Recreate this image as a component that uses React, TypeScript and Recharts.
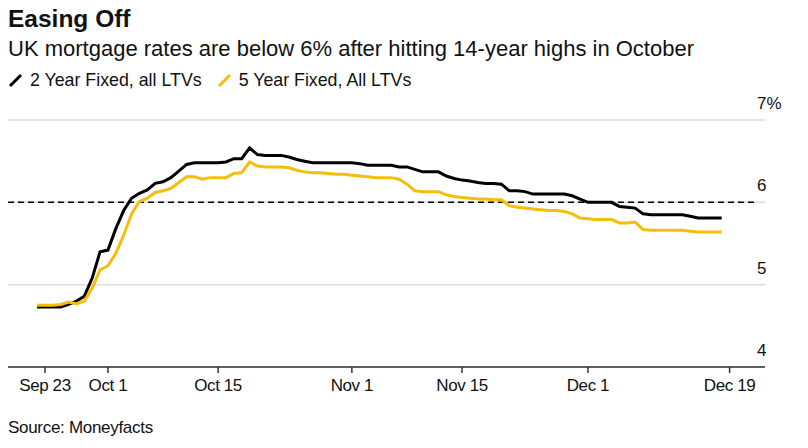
import { LineChart, Line, XAxis, YAxis, CartesianGrid, ReferenceLine } from "recharts"

// daily readings, first point is Sep 22 2022 (day -1 relative to Sep 23)
const startDay = -1

const twoYearFixed = [
  4.73, 4.73, 4.73, 4.73, 4.76, 4.8, 4.86, 5.08, 5.4, 5.42,
  5.68, 5.9, 6.05, 6.11, 6.15, 6.23, 6.25, 6.3, 6.38, 6.46,
  6.48, 6.48, 6.48, 6.48, 6.49, 6.53, 6.53, 6.66, 6.58, 6.57,
  6.57, 6.57, 6.55, 6.52, 6.5, 6.48, 6.48, 6.48, 6.48, 6.48,
  6.48, 6.47, 6.45, 6.45, 6.45, 6.45, 6.43, 6.43, 6.4, 6.37,
  6.37, 6.37, 6.32, 6.29, 6.27, 6.26, 6.24, 6.23, 6.23, 6.22,
  6.14, 6.14, 6.13, 6.1, 6.1, 6.1, 6.1, 6.1, 6.08, 6.04,
  6.0, 6.0, 6.0, 6.0, 5.95, 5.94, 5.93, 5.86, 5.85, 5.85,
  5.85, 5.85, 5.85, 5.83, 5.81, 5.81, 5.81, 5.81,
]

const fiveYearFixed = [
  4.75, 4.75, 4.75, 4.76, 4.79, 4.77, 4.8, 4.96, 5.18, 5.23,
  5.38, 5.6, 5.86, 6.01, 6.05, 6.12, 6.14, 6.17, 6.24, 6.31,
  6.31, 6.28, 6.3, 6.3, 6.3, 6.35, 6.36, 6.49, 6.44, 6.43,
  6.43, 6.43, 6.42, 6.39, 6.37, 6.36, 6.36, 6.35, 6.34, 6.34,
  6.33, 6.32, 6.31, 6.3, 6.3, 6.3, 6.28, 6.22, 6.14, 6.13,
  6.13, 6.13, 6.09, 6.07, 6.06, 6.05, 6.04, 6.04, 6.03, 6.03,
  5.96, 5.94, 5.93, 5.92, 5.91, 5.9, 5.9, 5.89, 5.86, 5.81,
  5.8, 5.79, 5.79, 5.79, 5.75, 5.75, 5.76, 5.67, 5.66, 5.66,
  5.66, 5.66, 5.66, 5.65, 5.64, 5.64, 5.64, 5.64,
]

// tick positions in days from Sep 23
const xTicks = [0, 8, 22, 39, 53, 69, 87]
const xTickLabels = ["Sep 23", "Oct 1", "Oct 15", "Nov 1", "Nov 15", "Dec 1", "Dec 19"]
const yTicks = [4, 5, 6, 7]

const YELLOW = "#f5bd0c"
const FONT = "'Liberation Sans', Arial, Helvetica, sans-serif"

const data = twoYearFixed.map((v, i) => ({
  day: startDay + i,
  two: v,
  five: fiveYearFixed[i],
}))

const YTick = (props: any) => {
  const { x, y, payload } = props
  return (
    <text x={x - 8} y={y - 11} fontSize={17} fill="#111" fontFamily={FONT} textAnchor="start">
      {payload.value === 7 ? "7%" : payload.value}
    </text>
  )
}

const Slash = ({ color }: { color: string }) => (
  <svg width="15" height="15" style={{ marginRight: 7, verticalAlign: "-1px" }}>
    <line x1="2" y1="13" x2="13" y2="2" stroke={color} strokeWidth="3" />
  </svg>
)

export default function App() {
  return (
    <div style={{ position: "relative", width: 792, height: 432, fontFamily: FONT, color: "#111" }}>
      <div style={{ position: "absolute", left: 0, top: -3, fontSize: 24.5, fontWeight: 700 }}>
        Easing Off
      </div>
      <div style={{ position: "absolute", left: 0, top: 28, fontSize: 22 }}>
        UK mortgage rates are below 6% after hitting 14-year highs in October
      </div>
      <div style={{ position: "absolute", left: 0, top: 62, fontSize: 17.8, display: "flex", alignItems: "center" }}>
        <Slash color="#000" />
        <span style={{ marginRight: 15 }}>2 Year Fixed, all LTVs</span>
        <Slash color={YELLOW} />
        <span>5 Year Fixed, All LTVs</span>
      </div>

      <div style={{ position: "absolute", left: 0, top: 0 }}>
        <LineChart width={792} height={390} data={data} margin={{ top: 112, right: 0, bottom: 0, left: 0 }}>
          <CartesianGrid vertical={false} stroke="#dcdcdc" strokeWidth={1.5} />
          <XAxis
            dataKey="day"
            type="number"
            domain={[-4.7, 91.5]}
            ticks={xTicks}
            tickFormatter={(v) => xTickLabels[xTicks.indexOf(v)]}
            height={31}
            axisLine={{ stroke: "#333", strokeWidth: 1.5 }}
            tickLine={{ stroke: "#333", strokeWidth: 1.5 }}
            tickSize={6}
            tickMargin={6}
            tick={{ fontSize: 17, fill: "#111", fontFamily: FONT, letterSpacing: -0.4 }}
            allowDataOverflow
          />
          <YAxis
            orientation="right"
            domain={[4, 7]}
            ticks={yTicks}
            width={35}
            axisLine={false}
            tickLine={false}
            tickSize={0}
            tickMargin={0}
            tick={<YTick />}
          />
          <ReferenceLine
            segment={[{ x: -4.7, y: 6 }, { x: 90.2, y: 6 }]}
            stroke="#000"
            strokeWidth={1.5}
            strokeDasharray="6 4"
          />
          <Line
            dataKey="two"
            stroke="#000"
            strokeWidth={3}
            dot={false}
            type="linear"
            isAnimationActive={false}
          />
          <Line
            dataKey="five"
            stroke={YELLOW}
            strokeWidth={3}
            dot={false}
            type="linear"
            isAnimationActive={false}
          />
        </LineChart>
      </div>

      <div style={{ position: "absolute", left: 0, top: 410, fontSize: 17, letterSpacing: -0.3 }}>
        Source: Moneyfacts
      </div>
    </div>
  )
}
